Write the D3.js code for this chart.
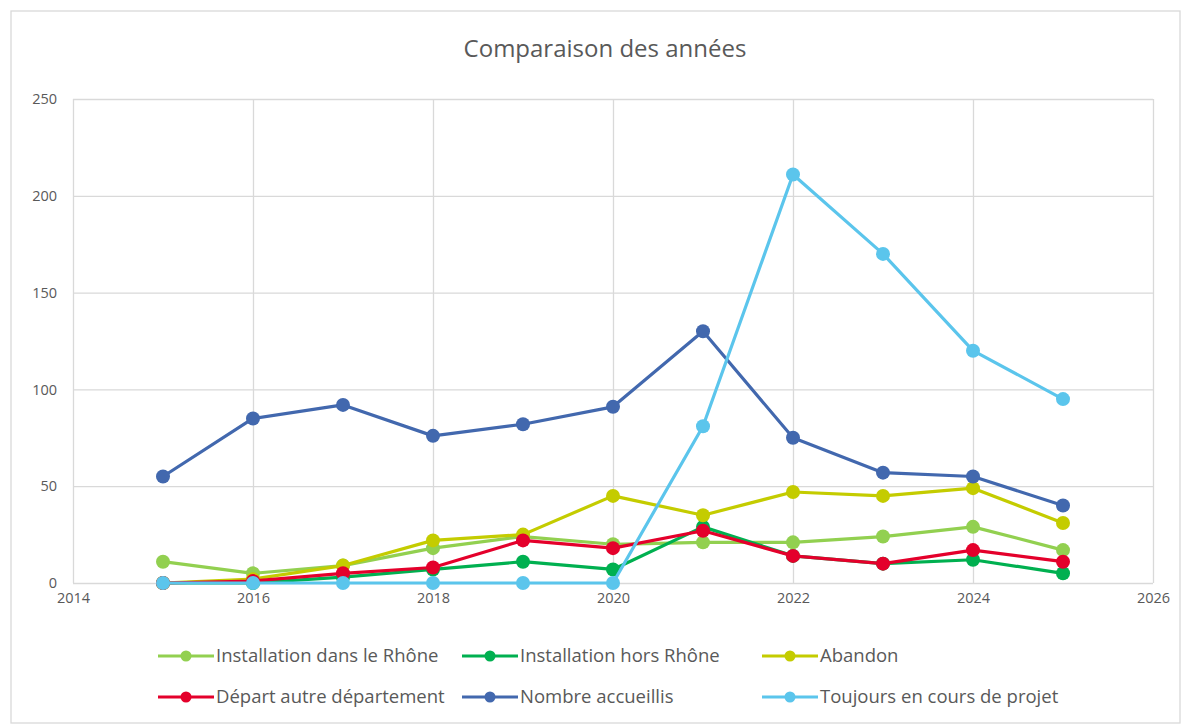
<!DOCTYPE html>
<html>
  <head>
    <meta charset="UTF-8" />
    <script src="https://cdnjs.cloudflare.com/ajax/libs/d3/7.8.5/d3.min.js"></script>
    <style>
      body { margin: 0; background: #fff; }
      text { font-family: "Open Sans", Lato, sans-serif; fill: #595959; }
      .grid line { stroke: #d9d9d9; stroke-width: 1.3; }
      .domain { display: none; }
    </style>
  </head>
  <body>
    <svg id="chart" width="1188" height="724"></svg>
    <script>
      const years = [2015, 2016, 2017, 2018, 2019, 2020, 2021, 2022, 2023, 2024, 2025];
      const xTicks = [2014, 2016, 2018, 2020, 2022, 2024, 2026];
      const yTicks = [0, 50, 100, 150, 200, 250];

      const installRhone = [11, 5, 9, 18, 24, 20, 21, 21, 24, 29, 17];
      const installHors = [0, 0, 3, 7, 11, 7, 29, 14, 10, 12, 5];
      const abandon = [0, 2, 9, 22, 25, 45, 35, 47, 45, 49, 31];
      const depart = [0, 1, 5, 8, 22, 18, 27, 14, 10, 17, 11];
      const accueillis = [55, 85, 92, 76, 82, 91, 130, 75, 57, 55, 40];
      const enCours = [0, 0, 0, 0, 0, 0, 81, 211, 170, 120, 95];

      const series = [
        { name: "Installation dans le Rhône", values: installRhone, color: "#92d050" },
        { name: "Installation hors Rhône", values: installHors, color: "#00b050" },
        { name: "Abandon", values: abandon, color: "#c4cc00" },
        { name: "Départ autre département", values: depart, color: "#e4002b" },
        { name: "Nombre accueillis", values: accueillis, color: "#4268ae" },
        { name: "Toujours en cours de projet", values: enCours, color: "#5bc5ec" }
      ];

      const svg = d3.select("#chart");

      svg.append("rect")
        .attr("x", 11).attr("y", 11)
        .attr("width", 1169).attr("height", 712)
        .attr("fill", "none").attr("stroke", "#d9d9d9").attr("stroke-width", 1.3);

      svg.append("text")
        .attr("x", 605).attr("y", 57)
        .attr("text-anchor", "middle")
        .style("font-size", "24px")
        .text("Comparaison des années");

      let x = d3.scaleLinear().domain([2014, 2026]).range([73, 1153]);
      let y = d3.scaleLinear().domain([0, 250]).range([583, 99]);

      // grid
      svg.append("g").attr("class", "grid")
        .attr("transform", "translate(0,583)")
        .call(d3.axisBottom(x).tickValues(xTicks).tickSize(-484).tickFormat(""));
      svg.append("g").attr("class", "grid")
        .attr("transform", "translate(73,0)")
        .call(d3.axisLeft(y).tickValues(yTicks).tickSize(-1080).tickFormat(""));

      // axis labels
      svg.append("g")
        .attr("transform", "translate(0,583)")
        .call(d3.axisBottom(x).tickValues(xTicks).tickSize(0).tickPadding(10).tickFormat(d3.format("d")))
        .call(g => g.selectAll("text").style("font-size", "14.5px"));
      svg.append("g")
        .attr("transform", "translate(73,0)")
        .call(d3.axisLeft(y).tickValues(yTicks).tickSize(0).tickPadding(16))
        .call(g => g.selectAll("text").style("font-size", "14.5px"));

      const line = d3.line()
        .x((d, i) => x(years[i]))
        .y(d => y(d));

      series.forEach(s => {
        const g = svg.append("g");
        g.append("path")
          .attr("d", line(s.values))
          .attr("fill", "none")
          .attr("stroke", s.color)
          .attr("stroke-width", 3.2)
          .attr("stroke-linejoin", "round");
        g.selectAll("circle")
          .data(s.values)
          .enter()
          .append("circle")
          .attr("cx", (d, i) => x(years[i]))
          .attr("cy", d => y(d))
          .attr("r", 7)
          .attr("fill", s.color);
      });

      // legend
      const legX = [158, 462, 762];
      const legY = [656, 697];
      const legend = svg.append("g");
      series.forEach((s, i) => {
        const lx = legX[i % 3], ly = legY[Math.floor(i / 3)];
        legend.append("line")
          .attr("x1", lx).attr("x2", lx + 56)
          .attr("y1", ly).attr("y2", ly)
          .attr("stroke", s.color).attr("stroke-width", 3.2);
        legend.append("circle")
          .attr("cx", lx + 28).attr("cy", ly).attr("r", 5.5)
          .attr("fill", s.color);
        legend.append("text")
          .attr("x", lx + 58).attr("y", ly)
          .attr("dy", "0.35em")
          .style("font-size", "18.5px")
          .text(s.name);
      });
    </script>
  </body>
</html>
